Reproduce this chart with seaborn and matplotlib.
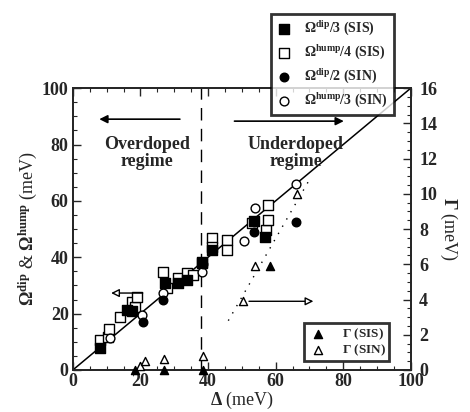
import matplotlib
matplotlib.use("Agg")
import matplotlib.pyplot as plt
import seaborn as sns

# data
dip_sis_x = [8, 16, 17.5, 27.2, 31, 33.7, 38.2, 41.1, 53.5, 56.8]
dip_sis_y = [7.8, 21.3, 20.8, 30.9, 30.8, 32, 38, 42.5, 53, 47.2]

hump_sis_x = [8, 10.4, 10.7, 13.9, 17.5, 18.3, 18.9, 26.6, 27.8, 31, 33.7, 35.5,
              38.2, 41.1, 41.1, 45.6, 45.6, 53, 57.1, 57.7, 57.7]
hump_sis_y = [10.6, 11.7, 14.5, 18.8, 24.1, 22.3, 25.9, 34.8, 29, 32.6, 34.4, 33.7,
              38.3, 46.8, 43.6, 46.1, 42.6, 52.1, 49.6, 53.2, 58.5]

dip_sin_x = [20.7, 26.6, 38.5, 53.5, 66]
dip_sin_y = [17, 24.8, 37.5, 48.9, 52.5]

hump_sin_x = [10.9, 20.4, 26.6, 38.2, 50.6, 53.8, 66]
hump_sin_y = [11.3, 19.5, 27.3, 34.8, 45.7, 57.4, 66]

gamma_sis_x = [18.3, 27, 38.5, 58.3]
gamma_sis_y = [0, 0, 0, 5.9]
gamma_sin_x = [19.8, 21.3, 27, 38.5, 50.3, 53.8, 66.3]
gamma_sin_y = [0.2, 0.5, 0.6, 0.8, 3.9, 5.9, 10.0]

diag = [0, 100]
guide_x = [46, 70]
guide_y = [2.8, 10.8]
crossover = 38

sns.set_style("ticks")
plt.rcParams["font.family"] = ["Liberation Serif", "DejaVu Serif"]
plt.rcParams["font.weight"] = "bold"
plt.rcParams["mathtext.fontset"] = "custom"
plt.rcParams["mathtext.rm"] = "Liberation Serif:bold"
plt.rcParams["mathtext.it"] = "Liberation Serif:bold"
plt.rcParams["mathtext.bf"] = "Liberation Serif:bold"

fig = plt.figure(figsize=(4.7, 4.12), dpi=100)
ax = fig.add_axes([0.155, 0.102, 0.719, 0.684])
ax2 = ax.twinx()

ax.plot(diag, diag, color="black", lw=1.1, zorder=1)
ax.axvline(crossover, color="black", lw=1, ls=(0, (9, 6)), zorder=1)

sns.scatterplot(x=hump_sis_x, y=hump_sis_y, marker="s", s=48, color="white",
                edgecolor="black", linewidth=1, ax=ax, zorder=3,
                label=r"$\Omega^{hump}$/4 (SIS)")
sns.scatterplot(x=dip_sis_x, y=dip_sis_y, marker="s", s=42, color="black",
                edgecolor="black", linewidth=1, ax=ax, zorder=4,
                label=r"$\Omega^{dip}$/3 (SIS)")
sns.scatterplot(x=hump_sin_x, y=hump_sin_y, marker="o", s=40, color="white",
                edgecolor="black", linewidth=1, ax=ax, zorder=4,
                label=r"$\Omega^{hump}$/3 (SIN)")
sns.scatterplot(x=dip_sin_x, y=dip_sin_y, marker="o", s=38, color="black",
                edgecolor="black", linewidth=1, ax=ax, zorder=4,
                label=r"$\Omega^{dip}$/2 (SIN)")

sns.scatterplot(x=gamma_sis_x, y=gamma_sis_y, marker="^", s=34, color="black",
                edgecolor="black", linewidth=1, ax=ax2, zorder=4,
                label=r"$\Gamma$ (SIS)", clip_on=False)
sns.scatterplot(x=gamma_sin_x, y=gamma_sin_y, marker="^", s=34, color="white",
                edgecolor="black", linewidth=1, ax=ax2, zorder=3,
                label=r"$\Gamma$ (SIN)", clip_on=False)
ax2.plot(guide_x, guide_y, color="black", lw=1, ls=(0, (1, 5)))

ax.set_xlim(0, 100)
ax.set_ylim(0, 100)
ax2.set_ylim(0, 16)

ax.set_xticks(range(0, 101, 20))
ax.set_yticks(range(0, 101, 20))
ax.set_xticks(range(0, 101, 5), minor=True)
ax.set_yticks(range(0, 101, 5), minor=True)
ax2.set_yticks(range(0, 17, 2))
ax2.set_yticks([v / 2 for v in range(0, 33)], minor=True)

ax.tick_params(which="both", direction="in", top=True, labelsize=13)
ax.tick_params(axis="x", pad=2)
ax.tick_params(axis="y", pad=3)
ax.tick_params(which="major", length=6, width=1)
ax.tick_params(which="minor", length=3, width=0.8)
ax2.tick_params(which="both", direction="in", labelsize=13, pad=6)
ax2.tick_params(which="major", length=6, width=1)
ax2.tick_params(which="minor", length=3, width=0.8)
for a in (ax, ax2):
    for sp in a.spines.values():
        sp.set_linewidth(1.3)
        sp.set_visible(True)

ax.set_xlabel(r"$\Delta$ (meV)", fontsize=13, labelpad=0)
ax.set_ylabel(r"$\Omega^{dip}$ & $\Omega^{hump}$ (meV)", fontsize=13, labelpad=2)
ax2.set_ylabel(r"$\Gamma$ (meV)", fontsize=13, rotation=270, labelpad=16)

ax.text(22, 77, "Overdoped\nregime", ha="center", va="center", fontsize=13,
        linespacing=1.0)
ax.text(66, 77, "Underdoped\nregime", ha="center", va="center", fontsize=13,
        linespacing=1.0)

ax.annotate("", xy=(7, 89), xytext=(32.5, 89),
            arrowprops=dict(arrowstyle="-|>", color="black", lw=1.2,
                            mutation_scale=12))
ax.annotate("", xy=(81, 88.3), xytext=(47, 88.3),
            arrowprops=dict(arrowstyle="-|>", color="black", lw=1.2,
                            mutation_scale=12))
ax.annotate("", xy=(10.5, 27.3), xytext=(21.5, 27.3),
            arrowprops=dict(arrowstyle="-|>", color="black", fc="white", lw=1,
                            mutation_scale=12))
ax2.annotate("", xy=(72, 3.9), xytext=(51.3, 3.9),
             arrowprops=dict(arrowstyle="-|>", color="black", fc="white", lw=1,
                             mutation_scale=12))

h, l = ax.get_legend_handles_labels()
order = [1, 0, 3, 2]
if ax.get_legend():
    ax.get_legend().remove()
leg = fig.legend([h[i] for i in order], [l[i] for i in order],
                 loc="upper left", bbox_to_anchor=(0.562, 0.982),
                 fontsize=10, frameon=True, fancybox=False, edgecolor="black",
                 handletextpad=1.0, borderpad=0.4, labelspacing=0.4,
                 handlelength=1.0)
leg.get_frame().set_linewidth(2)
leg.set_zorder(20)

h2, l2 = ax2.get_legend_handles_labels()
leg2 = ax2.legend(h2, l2, loc="lower right", bbox_to_anchor=(0.955, 0.007),
                  fontsize=9.5, frameon=True, fancybox=False, edgecolor="black",
                  handletextpad=1.0, borderpad=0.25, labelspacing=0.05,
                  handlelength=1.6)
leg2.get_frame().set_linewidth(2)

fig.savefig("out.png", dpi=100)
